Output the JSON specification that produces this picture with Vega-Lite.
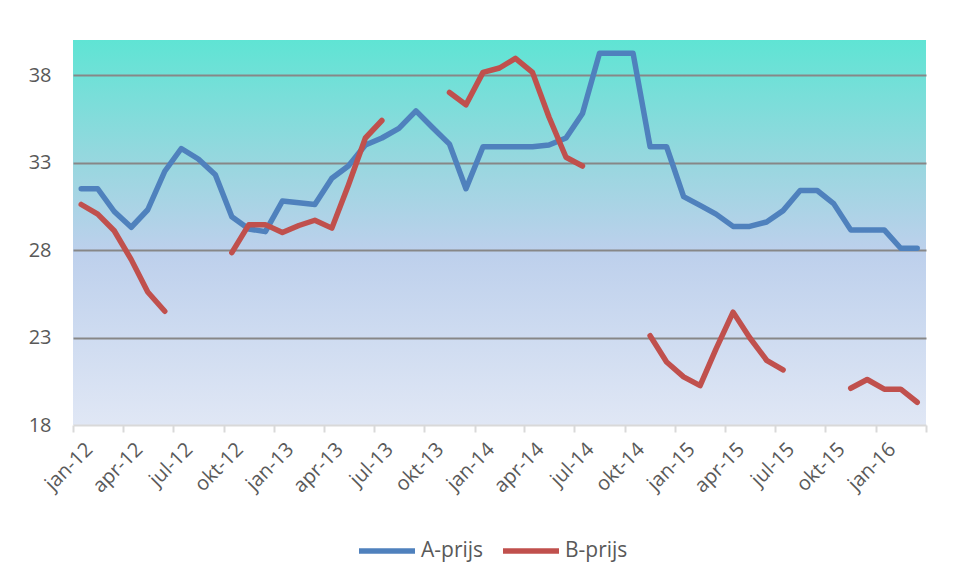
{
  "$schema": "https://vega.github.io/schema/vega-lite/v6.json",
  "width": 853,
  "height": 385,
  "autosize": {"type": "none"},
  "padding": {"left": 73, "top": 40, "right": 28, "bottom": 153},
  "background": "white",
  "data": {"values": [
    {"m":"2012-01-16","s":"A-prijs","v":31.5},{"m":"2012-01-16","s":"B-prijs","v":30.6},
    {"m":"2012-02-15","s":"A-prijs","v":31.5},{"m":"2012-02-15","s":"B-prijs","v":30.05},
    {"m":"2012-03-16","s":"A-prijs","v":30.2},{"m":"2012-03-16","s":"B-prijs","v":29.1},
    {"m":"2012-04-16","s":"A-prijs","v":29.3},{"m":"2012-04-16","s":"B-prijs","v":27.45},
    {"m":"2012-05-16","s":"A-prijs","v":30.3},{"m":"2012-05-16","s":"B-prijs","v":25.6},
    {"m":"2012-06-16","s":"A-prijs","v":32.5},{"m":"2012-06-16","s":"B-prijs","v":24.5},
    {"m":"2012-07-16","s":"A-prijs","v":33.8},{"m":"2012-07-16","s":"B-prijs","v":null},
    {"m":"2012-08-16","s":"A-prijs","v":33.2},{"m":"2012-08-16","s":"B-prijs","v":null},
    {"m":"2012-09-16","s":"A-prijs","v":32.3},{"m":"2012-09-16","s":"B-prijs","v":null},
    {"m":"2012-10-16","s":"A-prijs","v":29.9},{"m":"2012-10-16","s":"B-prijs","v":27.85},
    {"m":"2012-11-16","s":"A-prijs","v":29.2},{"m":"2012-11-16","s":"B-prijs","v":29.45},
    {"m":"2012-12-16","s":"A-prijs","v":29.05},{"m":"2012-12-16","s":"B-prijs","v":29.45},
    {"m":"2013-01-16","s":"A-prijs","v":30.8},{"m":"2013-01-16","s":"B-prijs","v":29.0},
    {"m":"2013-02-15","s":"A-prijs","v":30.7},{"m":"2013-02-15","s":"B-prijs","v":29.4},
    {"m":"2013-03-16","s":"A-prijs","v":30.6},{"m":"2013-03-16","s":"B-prijs","v":29.7},
    {"m":"2013-04-16","s":"A-prijs","v":32.1},{"m":"2013-04-16","s":"B-prijs","v":29.25},
    {"m":"2013-05-16","s":"A-prijs","v":32.8},{"m":"2013-05-16","s":"B-prijs","v":31.7},
    {"m":"2013-06-16","s":"A-prijs","v":34.0},{"m":"2013-06-16","s":"B-prijs","v":34.4},
    {"m":"2013-07-16","s":"A-prijs","v":34.4},{"m":"2013-07-16","s":"B-prijs","v":35.4},
    {"m":"2013-08-16","s":"A-prijs","v":34.95},{"m":"2013-08-16","s":"B-prijs","v":null},
    {"m":"2013-09-16","s":"A-prijs","v":35.95},{"m":"2013-09-16","s":"B-prijs","v":null},
    {"m":"2013-10-16","s":"A-prijs","v":35.0},{"m":"2013-10-16","s":"B-prijs","v":null},
    {"m":"2013-11-16","s":"A-prijs","v":34.05},{"m":"2013-11-16","s":"B-prijs","v":37.0},
    {"m":"2013-12-16","s":"A-prijs","v":31.5},{"m":"2013-12-16","s":"B-prijs","v":36.3},
    {"m":"2014-01-16","s":"A-prijs","v":33.9},{"m":"2014-01-16","s":"B-prijs","v":38.15},
    {"m":"2014-02-15","s":"A-prijs","v":33.9},{"m":"2014-02-15","s":"B-prijs","v":38.4},
    {"m":"2014-03-16","s":"A-prijs","v":33.9},{"m":"2014-03-16","s":"B-prijs","v":38.95},
    {"m":"2014-04-16","s":"A-prijs","v":33.9},{"m":"2014-04-16","s":"B-prijs","v":38.15},
    {"m":"2014-05-16","s":"A-prijs","v":34.0},{"m":"2014-05-16","s":"B-prijs","v":35.6},
    {"m":"2014-06-16","s":"A-prijs","v":34.4},{"m":"2014-06-16","s":"B-prijs","v":33.3},
    {"m":"2014-07-16","s":"A-prijs","v":35.8},{"m":"2014-07-16","s":"B-prijs","v":32.8},
    {"m":"2014-08-16","s":"A-prijs","v":39.25},{"m":"2014-08-16","s":"B-prijs","v":null},
    {"m":"2014-09-16","s":"A-prijs","v":39.25},{"m":"2014-09-16","s":"B-prijs","v":null},
    {"m":"2014-10-16","s":"A-prijs","v":39.25},{"m":"2014-10-16","s":"B-prijs","v":null},
    {"m":"2014-11-16","s":"A-prijs","v":33.9},{"m":"2014-11-16","s":"B-prijs","v":23.1},
    {"m":"2014-12-16","s":"A-prijs","v":33.9},{"m":"2014-12-16","s":"B-prijs","v":21.6},
    {"m":"2015-01-16","s":"A-prijs","v":31.05},{"m":"2015-01-16","s":"B-prijs","v":20.75},
    {"m":"2015-02-15","s":"A-prijs","v":30.55},{"m":"2015-02-15","s":"B-prijs","v":20.25},
    {"m":"2015-03-16","s":"A-prijs","v":30.05},{"m":"2015-03-16","s":"B-prijs","v":22.35},
    {"m":"2015-04-16","s":"A-prijs","v":29.35},{"m":"2015-04-16","s":"B-prijs","v":24.45},
    {"m":"2015-05-16","s":"A-prijs","v":29.35},{"m":"2015-05-16","s":"B-prijs","v":23.0},
    {"m":"2015-06-16","s":"A-prijs","v":29.6},{"m":"2015-06-16","s":"B-prijs","v":21.7},
    {"m":"2015-07-16","s":"A-prijs","v":30.25},{"m":"2015-07-16","s":"B-prijs","v":21.15},
    {"m":"2015-08-16","s":"A-prijs","v":31.4},{"m":"2015-08-16","s":"B-prijs","v":null},
    {"m":"2015-09-16","s":"A-prijs","v":31.4},{"m":"2015-09-16","s":"B-prijs","v":null},
    {"m":"2015-10-16","s":"A-prijs","v":30.65},{"m":"2015-10-16","s":"B-prijs","v":null},
    {"m":"2015-11-16","s":"A-prijs","v":29.15},{"m":"2015-11-16","s":"B-prijs","v":20.1},
    {"m":"2015-12-16","s":"A-prijs","v":29.15},{"m":"2015-12-16","s":"B-prijs","v":20.6},
    {"m":"2016-01-16","s":"A-prijs","v":29.15},{"m":"2016-01-16","s":"B-prijs","v":20.05},
    {"m":"2016-02-15","s":"A-prijs","v":28.1},{"m":"2016-02-15","s":"B-prijs","v":20.05},
    {"m":"2016-03-16","s":"A-prijs","v":28.1},{"m":"2016-03-16","s":"B-prijs","v":19.3}
  ]},
  "mark": {"type": "line", "strokeWidth": 5.5, "strokeCap": "round", "strokeJoin": "round"},
  "encoding": {
    "x": {
      "field": "m",
      "type": "temporal",
      "scale": {
        "type": "utc",
        "domain": [
          {"year": 2012, "month": 1, "date": 1, "utc": true},
          {"year": 2016, "month": 4, "date": 1, "utc": true}
        ]
      },
      "axis": {
        "title": null,
        "tickCount": {"interval": "month", "step": 3},
        "labelExpr": "datum.value >= utc(2016,3,1) ? '' : ['jan','feb','mrt','apr','mei','jun','jul','aug','sep','okt','nov','dec'][utcmonth(datum.value)] + '-' + utcFormat(datum.value, '%y')",
        "labelAngle": -45,
        "labelAlign": "right",
        "labelBaseline": "middle",
        "labelFontSize": 20,
        "labelColor": "#595959",
        "labelOffset": 16,
        "labelPadding": 14,
        "labelOverlap": false,
        "labelFlush": false,
        "tickSize": 7,
        "tickColor": "#d9d9d9",
        "tickWidth": 2,
        "domainColor": "#d9d9d9",
        "domainWidth": 2,
        "grid": false
      }
    },
    "y": {
      "field": "v",
      "type": "quantitative",
      "scale": {"domain": [18, 40], "nice": false, "zero": false},
      "axis": {
        "title": null,
        "values": [18, 23, 28, 33, 38],
        "domain": false,
        "ticks": false,
        "labelPadding": 22,
        "labelFontSize": 20,
        "labelColor": "#595959",
        "grid": true,
        "gridColor": {"condition": {"test": "datum.value == 18", "value": "transparent"}, "value": "#878787"},
        "gridWidth": 2
      }
    },
    "color": {
      "field": "s",
      "type": "nominal",
      "scale": {"domain": ["A-prijs", "B-prijs"], "range": ["#4f81bd", "#c0504d"]},
      "legend": {
        "title": null,
        "orient": "none",
        "legendX": 283,
        "legendY": 480,
        "direction": "horizontal",
        "symbolType": "stroke",
        "symbolSize": 3136,
        "symbolStrokeWidth": 5.5,
        "labelFontSize": 21,
        "labelColor": "#595959",
        "labelOffset": 3,
        "columnPadding": 8
      }
    }
  },
  "config": {
    "font": "Open Sans",
    "view": {
      "stroke": null,
      "fill": {
        "gradient": "linear",
        "x1": 0, "y1": 0, "x2": 0, "y2": 1,
        "stops": [
          {"offset": 0, "color": "#5fe4d4"},
          {"offset": 0.32, "color": "#98d7df"},
          {"offset": 0.55, "color": "#bdd0ec"},
          {"offset": 1, "color": "#e0e7f5"}
        ]
      }
    }
  }
}
